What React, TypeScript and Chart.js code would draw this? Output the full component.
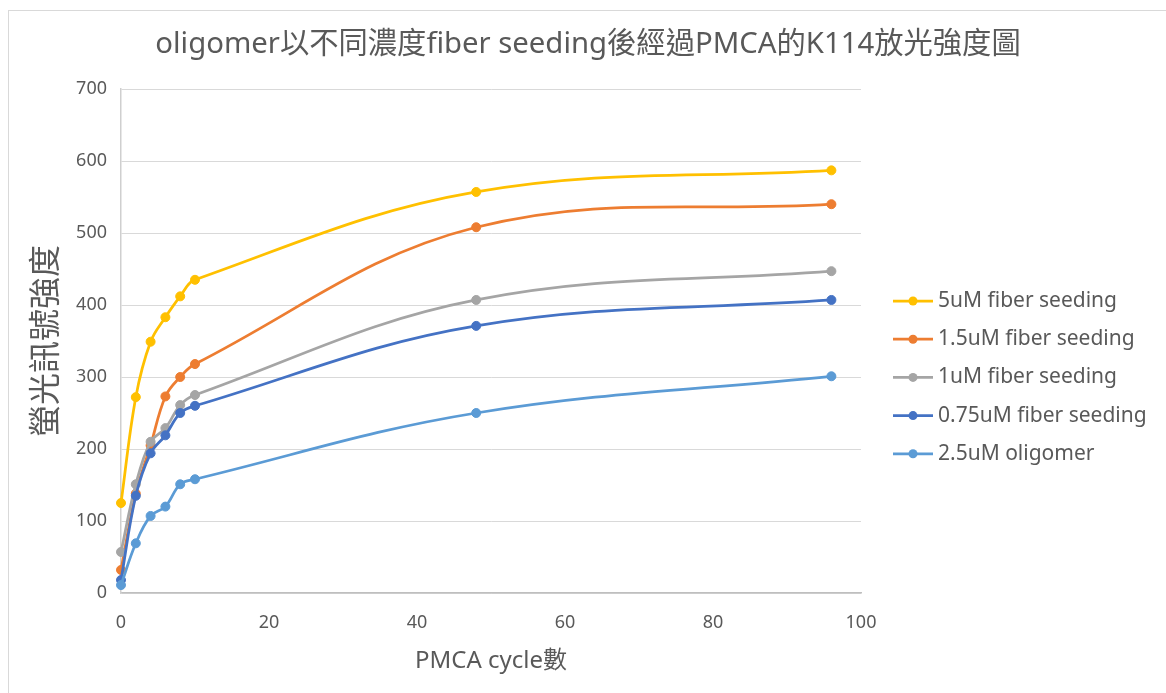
import React, { useEffect, useRef } from "react";
import { Chart, registerables } from "chart.js";

Chart.register(...registerables);

// PMCA cycle numbers at which K114 fluorescence was read
const cycles = [0, 2, 4, 6, 8, 10, 48, 96];

// K114 fluorescence for each seeding condition
const fiber5uM = [125, 272, 349, 383, 412, 435, 557, 587];
const fiber1p5uM = [32, 138, 205, 273, 300, 318, 508, 540];
const fiber1uM = [57, 151, 210, 229, 261, 275, 407, 447];
const fiber0p75uM = [18, 135, 194, 219, 250, 260, 371, 407];
const oligomer2p5uM = [11, 69, 107, 120, 151, 158, 250, 301];

const seriesLabels = [
  "5uM fiber seeding",
  "1.5uM fiber seeding",
  "1uM fiber seeding",
  "0.75uM fiber seeding",
  "2.5uM oligomer",
];
const seriesValues = [fiber5uM, fiber1p5uM, fiber1uM, fiber0p75uM, oligomer2p5uM];
const seriesColors = ["#FFC000", "#ED7D31", "#A5A5A5", "#4472C4", "#5B9BD5"];

const chartTitle = "oligomer以不同濃度fiber seeding後經過PMCA的K114放光強度圖";
const xTitle = "PMCA cycle數";
const yTitle = "螢光訊號強度";

const TEXT = "#595959";
const FONT = "'Noto Sans', 'Noto Sans CJK TC', sans-serif";

// Title centred across the whole canvas, above the plot
const pageTitle = {
  id: "pageTitle",
  afterDraw(chart: any) {
    const { ctx } = chart;
    ctx.save();
    ctx.fillStyle = TEXT;
    ctx.font = `29.3px ${FONT}`;
    ctx.textAlign = "center";
    ctx.textBaseline = "middle";
    ctx.fillText(chartTitle, chart.width / 2 + 5, 45);
    ctx.restore();
  },
};

// Legend listed beside the plot, one row per series
const sideLegend = {
  id: "sideLegend",
  afterDraw(chart: any) {
    const { ctx, chartArea } = chart;
    const x0 = chartArea.right + 32;
    const top = 301;
    const step = 38.2;
    ctx.save();
    chart.data.datasets.forEach((ds: any, i: number) => {
      const y = top + i * step;
      ctx.strokeStyle = ds.borderColor;
      ctx.lineWidth = 2.75;
      ctx.beginPath();
      ctx.moveTo(x0, y);
      ctx.lineTo(x0 + 40, y);
      ctx.stroke();
      ctx.fillStyle = ds.borderColor;
      ctx.beginPath();
      ctx.arc(x0 + 20, y, 4.5, 0, Math.PI * 2);
      ctx.fill();
      ctx.fillStyle = TEXT;
      ctx.font = `21px ${FONT}`;
      ctx.textBaseline = "middle";
      ctx.textAlign = "left";
      ctx.fillText(ds.label, x0 + 45, y);
    });
    ctx.restore();
  },
};

export default function App() {
  const canvasRef = useRef<HTMLCanvasElement>(null);

  useEffect(() => {
    if (!canvasRef.current) return;
    const n = seriesLabels.length;
    const chart = new Chart(canvasRef.current, {
      type: "line",
      data: {
        datasets: seriesLabels.map((label, i) => ({
          label,
          data: cycles.map((c, j) => ({ x: c, y: seriesValues[i][j] })),
          borderColor: seriesColors[i],
          backgroundColor: seriesColors[i],
          pointBackgroundColor: seriesColors[i],
          pointBorderColor: seriesColors[i],
          pointRadius: 4.5,
          pointBorderWidth: 1,
          borderWidth: 2.75,
          tension: 0.38,
          clip: false as any,
          order: n - i,
        })),
      },
      options: {
        responsive: false,
        animation: false,
        layout: { padding: { left: 0, right: 305, top: 89, bottom: 0 } },
        plugins: {
          legend: { display: false },
          tooltip: { enabled: false },
          title: { display: false },
        },
        scales: {
          x: {
            type: "linear",
            min: 0,
            max: 100,
            afterFit: (scale: any) => {
              scale.height = 100;
            },
            ticks: {
              stepSize: 20,
              color: TEXT,
              padding: 19,
              font: { family: FONT, size: 18 },
            },
            grid: { color: "transparent", drawTicks: false },
            border: { display: true, color: "#bfbfbf", width: 1.5 },
            title: {
              display: true,
              text: xTitle,
              color: TEXT,
              font: { family: FONT, size: 24, lineHeight: 1.2 },
              padding: { top: 0, bottom: 17 },
            },
          },
          y: {
            type: "linear",
            min: 0,
            max: 700,
            afterFit: (scale: any) => {
              scale.width = 121;
            },
            ticks: {
              stepSize: 100,
              color: TEXT,
              padding: 14,
              font: { family: FONT, size: 18 },
            },
            grid: { color: "#d9d9d9", lineWidth: 1, drawTicks: false },
            border: { display: true, color: "#cfcfcf", width: 1.5 },
            title: {
              display: true,
              text: yTitle,
              color: TEXT,
              font: { family: FONT, size: 32, lineHeight: 1.2 },
              padding: { top: 28, bottom: 0 },
            },
          },
        },
      },
      plugins: [pageTitle, sideLegend],
    } as any);
    return () => chart.destroy();
  }, []);

  return (
    <div
      style={{
        position: "fixed",
        left: 0,
        top: 0,
        width: 1166,
        height: 693,
        overflow: "hidden",
        background: "#ffffff",
      }}
    >
      <div
        style={{
          position: "absolute",
          left: 8,
          top: 10,
          width: 1200,
          height: 720,
          border: "1px solid #d9d9d9",
          boxSizing: "border-box",
        }}
      />
      <canvas
        ref={canvasRef}
        width={1166}
        height={693}
        style={{ position: "absolute", left: 0, top: 0, width: 1166, height: 693 }}
      />
    </div>
  );
}
